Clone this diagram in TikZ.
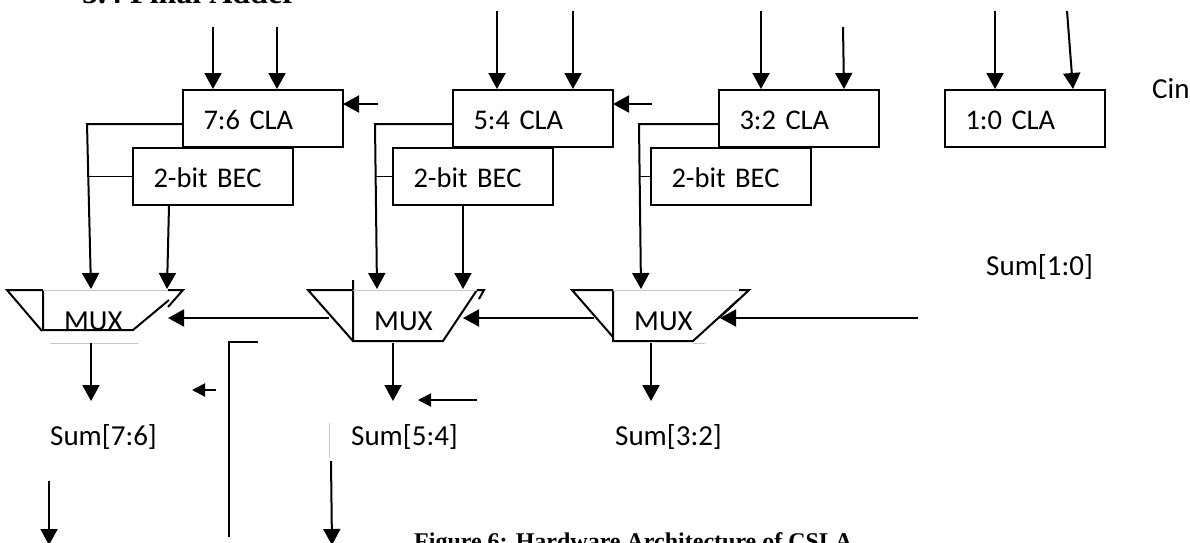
\documentclass[tikz,border=0pt]{standalone}
\usepackage{fontspec}
\setmainfont{Carlito}
\newfontfamily\headfont{Liberation Serif}
\usetikzlibrary{arrows.meta}
\begin{document}
\begin{tikzpicture}[x=1pt,y=-1pt,
		arr/.style={line width=2pt,-{Triangle[length=16pt,width=17pt]}},
		wire/.style={line width=2pt},
		thinwire/.style={line width=1.5pt},
		faint/.style={line width=0.8pt,black!22},
		addbox/.style={draw,line width=1.8pt,anchor=north west,outer sep=0pt,text width=119pt,inner xsep=20.5pt,minimum height=57pt,text height=21pt,text depth=0pt,align=left,font=\fontsize{28.5}{30}\selectfont},
		lbl/.style={anchor=base west,inner sep=0pt,font=\fontsize{29}{31}\selectfont},
		capt/.style={anchor=base west,inner sep=0pt}]
	\useasboundingbox (0,0) rectangle (1190,542);
	\node[capt,font=\headfont\bfseries\fontsize{32}{34}\selectfont] (head) at (82,3) {5.4 Final Adder};
	\node[capt,font=\headfont\bfseries\fontsize{24}{26}\selectfont] (caption) at (414,549) {Figure 6: Hardware Architecture of CSLA};
	\node[addbox] (cla76) at (183,90) {7:6 CLA};
	\node[addbox] (cla54) at (453,90) {5:4 CLA};
	\node[addbox] (cla32) at (719,90) {3:2 CLA};
	\node[addbox] (cla10) at (945,90) {1:0 CLA};
	\node[addbox] (bec76) at (133,148) {2-bit BEC};
	\node[addbox] (bec54) at (393,148) {2-bit BEC};
	\node[addbox] (bec32) at (651,148) {2-bit BEC};
	\node[lbl] (cin) at (1152,98) {Cin};
	\node[lbl] (sum10) at (986,275) {Sum[1:0]};
	\node[lbl] (sum76) at (50,445) {Sum[7:6]};
	\node[lbl] (sum54) at (351,445) {Sum[5:4]};
	\node[lbl] (sum32) at (615,445) {Sum[3:2]};
	\node[lbl] (mux76) at (64,330) {MUX};
	\node[lbl] (mux54) at (374,330) {MUX};
	\node[lbl] (mux32) at (634,330) {MUX};
	\foreach \n/\xs/\ys/\xe in {a/213/27/213,b/277/27/277,c/497/11/497,d/573/11/573,e/761/11/761,f/843/27/844,g/995/11/995,h/1067/11/1073} {
		\coordinate (in\n) at (\xs,\ys);
		\coordinate (to\n) at (\xe,89);
		\draw[arr] (in\n) -- (to\n);
	}
	\coordinate (c54) at (378,104);
	\coordinate (c32) at (652,104);
	\draw[arr] (c54) -- (c54 -| cla76.east);
	\draw[arr] (c32) -- (c32 -| cla54.east);
	\coordinate (t76) at (87,124);
	\coordinate (t54) at (375,124);
	\coordinate (t32) at (639,124);
	\coordinate (m76a) at (91,289);
	\coordinate (m76b) at (167,289);
	\coordinate (m54a) at (377,289);
	\coordinate (m54b) at (463,289);
	\coordinate (m32a) at (641,289);
	\draw[arr] (t76 -| cla76.west) -- (t76) -- (m76a);
	\draw[arr] (t54 -| cla54.west) -- (t54) -- (m54a);
	\draw[arr] (t32 -| cla32.west) -- (t32) -- (m32a);
	\draw[thinwire] (bec76.west) -- (bec76.west -| t76);
	\draw[thinwire] (bec54.west) -- (bec54.west -| t54);
	\draw[thinwire] (bec32.west) -- (bec32.west -| t32);
	\draw[arr] (169,206) -- (m76b);
	\draw[arr] (bec54.south -| m54b) -- (m54b);
	% mux shapes
	\draw[wire] (43,290) -- (7,290) -- (42,331);
	\draw[wire] (43,290) -- (43,330) -- (133,330) -- (169,300);
	\draw[wire] (168,290) -- (183,290) -- (168,307);
	\draw[faint] (43,290) -- (168,290);
	\draw[faint] (50,343) -- (138,343);
	\draw[wire] (353,290) -- (308,290) -- (353,341);
	\draw[wire] (353,280) -- (353,341) -- (443,341) -- (477,290);
	\draw[wire] (477,290) -- (484,290) -- (479,299);
	\draw[faint] (353,290) -- (477,290);
	\draw[wire] (613,290) -- (572,290) -- (613,337);
	\draw[wire] (613,290) -- (613,341) -- (693,341) -- (738,300);
	\draw[wire] (739,290) -- (749,290) -- (719,318);
	\draw[faint] (613,290) -- (739,290);
	\draw[faint] (693,343) -- (705,343);
	\coordinate (w54) at (329,318);
	\coordinate (e76) at (168,318);
	\coordinate (w32) at (594,318);
	\coordinate (e54) at (463,318);
	\coordinate (w10) at (918,318);
	\coordinate (e32) at (720,318);
	\draw[arr] (w54) -- (e76);
	\draw[arr] (w32) -- (e54);
	\draw[arr] (w10) -- (e32);
	\coordinate (o76) at (91,343);
	\coordinate (o54) at (393,343);
	\coordinate (o32) at (651,343);
	\draw[arr] (o76) -- (91,401);
	\draw[arr] (o54) -- (393,401);
	\draw[arr] (o32) -- (651,401);
	\coordinate (fa) at (216,390);
	\coordinate (fb) at (192,390);
	\coordinate (fc) at (477,400);
	\coordinate (fd) at (418,400);
	\draw[arr,-{Triangle[length=13pt,width=13pt]}] (fa) -- (fb);
	\draw[arr,-{Triangle[length=13pt,width=13pt]}] (fc) -- (fd);
	\coordinate (ea) at (229,537);
	\coordinate (eb) at (229,342);
	\coordinate (ec) at (258,342);
	\draw[thinwire] (ea) -- (eb) -- (ec);
	\draw[faint] (329,423) -- (329,458);
	\coordinate (da) at (49,481);
	\coordinate (db) at (49,545);
	\coordinate (dc) at (331,461);
	\coordinate (dd) at (332,545);
	\draw[arr] (da) -- (db);
	\draw[arr] (dc) -- (dd);
\end{tikzpicture}
\end{document}
